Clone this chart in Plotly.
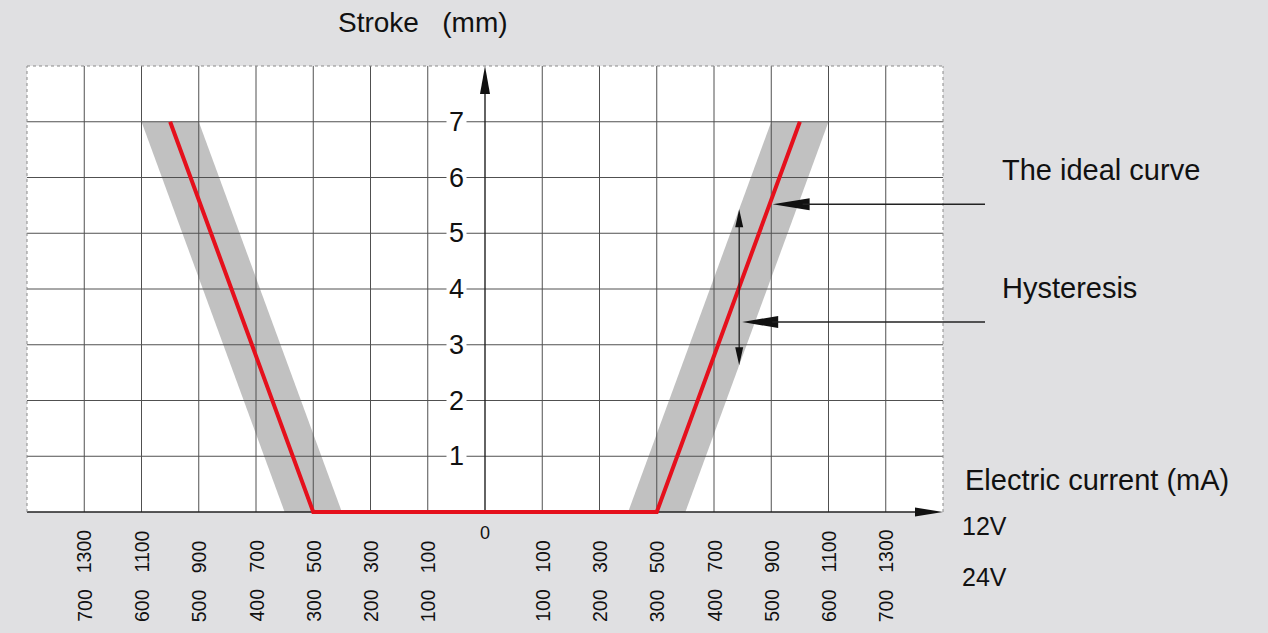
import numpy as np
import plotly.graph_objects as go

# Current scale: one grid column per tick, mirrored about zero
current_12v = [0, 100, 300, 500, 700, 900, 1100, 1300]   # mA, 12 V coil
current_24v = [0, 100, 200, 300, 400, 500, 600, 700]     # mA, 24 V coil
stroke_ticks = [1, 2, 3, 4, 5, 6, 7]                      # mm

# Ideal stroke characteristic (12 V currents; negative = left branch)
ideal_current = [-1000, -500, 500, 1000]
ideal_stroke = [7, 0, 0, 7]

# Half-width of the hysteresis band around the ideal curve (mA, 12 V)
hyst_mA = 100

# Geometry in pixels: chart box L..R, T..B (B = zero stroke); the plot
# area reaches PAD px below the axis so the thick curve is not clipped
W, H = 1268, 633
L, R, T, B = 27, 943, 66, 512
PAD = 4
N_COL = len(current_12v)  # columns on each side of zero
Y_MAX = 8

cols = np.arange(N_COL)
col_px = (R - L) / (2 * N_COL)
row_px = (B - T) / Y_MAX


def to_col(mA):
    mA = np.asarray(mA, dtype=float)
    return np.sign(mA) * np.interp(np.abs(mA), current_12v, cols)


def pp_x(xp):  # pixel -> paper
    return (xp - L) / (R - L)


def pp_y(yp):
    return (B + PAD - yp) / (B + PAD - T)


fig = go.Figure()

# Hysteresis bands around each branch of the ideal curve
branches = [(ideal_current[1], ideal_current[0], ideal_stroke[1], ideal_stroke[0]),
            (ideal_current[2], ideal_current[3], ideal_stroke[2], ideal_stroke[3])]
for c0, c1, s0, s1 in branches:
    xs = to_col([c0 - hyst_mA, c0 + hyst_mA, c1 + hyst_mA, c1 - hyst_mA])
    fig.add_trace(go.Scatter(
        x=list(xs) + [xs[0]], y=[s0, s0, s1, s1, s0],
        mode="lines", fill="toself", fillcolor="#c1c1c1",
        line=dict(width=0), hoverinfo="skip", showlegend=False))

# Grid
gx, gy = [], []
for c in range(-(N_COL - 1), N_COL):
    if c == 0:
        continue
    gx += [c, c, None]
    gy += [0, Y_MAX, None]
for s in stroke_ticks:
    gx += [-N_COL, N_COL, None]
    gy += [s, s, None]
fig.add_trace(go.Scatter(x=gx, y=gy, mode="lines",
                         line=dict(color="#505050", width=1),
                         hoverinfo="skip", showlegend=False))

# Axes
ax_x = [-N_COL, N_COL - 0.45, None, 0, 0]
ax_y = [0, 0, None, 0, Y_MAX - 0.45]
fig.add_trace(go.Scatter(x=ax_x, y=ax_y, mode="lines",
                         line=dict(color="#222222", width=1.4),
                         hoverinfo="skip", showlegend=False))

# Ideal curve
fig.add_trace(go.Scatter(
    x=to_col(ideal_current), y=ideal_stroke, mode="lines",
    line=dict(color="#e5101c", width=4), hoverinfo="skip", showlegend=False))

shapes = []
# white chart field above the current axis
shapes.append(dict(type="rect", xref="paper", yref="paper", layer="below",
                   x0=0, x1=1, y0=pp_y(B), y1=1,
                   fillcolor="white", line=dict(width=0)))
# dotted frame (top, left, right)
yb = pp_y(B)
for x0, y0, x1, y1 in [(0, 1, 1, 1), (0, yb, 0, 1), (1, yb, 1, 1)]:
    shapes.append(dict(type="line", xref="paper", yref="paper",
                       x0=x0, y0=y0, x1=x1, y1=y1,
                       line=dict(color="#8a8a8a", width=1, dash="dot")))


def tri(tip_x, tip_y, dx, dy, half):
    """Filled arrowhead in pixels: tip, direction (dx, dy) length, half width."""
    bx, by = tip_x + dx, tip_y + dy
    n = np.hypot(dx, dy)
    ux, uy = -dy / n * half, dx / n * half
    pts = [(tip_x, tip_y), (bx + ux, by + uy), (bx - ux, by - uy)]
    path = "M " + " L ".join(f"{pp_x(x):.5f},{pp_y(y):.5f}" for x, y in pts) + " Z"
    return dict(type="path", xref="paper", yref="paper", path=path,
                fillcolor="#111111", line=dict(width=0))


def seg(x0, y0, x1, y1, w=1.5):
    return dict(type="line", xref="paper", yref="paper",
                x0=pp_x(x0), y0=pp_y(y0), x1=pp_x(x1), y1=pp_y(y1),
                line=dict(color="#222222", width=w))


cx0 = L + N_COL * col_px  # pixel x of zero current
# axis arrowheads
shapes.append(tri(cx0, T, 0, 28, 5))
shapes.append(tri(R, B, -28, 0, 4.5))

# callout: ideal curve
s_ideal = 5.52
c_ideal = np.interp(s_ideal, [ideal_stroke[2], ideal_stroke[3]],
                    to_col([ideal_current[2], ideal_current[3]]))
tip_x = cx0 + c_ideal * col_px + 3
tip_y = B - s_ideal * row_px
shapes.append(tri(tip_x, tip_y, 37, 0, 6))
shapes.append(seg(tip_x + 30, tip_y, 985, tip_y))

# hysteresis span: vertical double arrow across the band
c_h = 4.44
lo_c0, lo_c1 = to_col([ideal_current[2] + hyst_mA, ideal_current[3] + hyst_mA])
hi_c0, hi_c1 = to_col([ideal_current[2] - hyst_mA, ideal_current[3] - hyst_mA])
s_top = (c_h - hi_c0) / (hi_c1 - hi_c0) * ideal_stroke[3]
s_bot = (c_h - lo_c0) / (lo_c1 - lo_c0) * ideal_stroke[3]
hx = cx0 + c_h * col_px
y_top = B - s_top * row_px
y_bot = B - s_bot * row_px
shapes.append(seg(hx, y_top + 10, hx, y_bot - 10, 1.3))
shapes.append(tri(hx, y_top, 0, 18, 4))
shapes.append(tri(hx, y_bot, 0, -18, 4))

# callout: hysteresis
hy = 322
shapes.append(tri(hx + 3, hy, 36, 0, 6))
shapes.append(seg(hx + 33, hy, 985, hy))

FONT = "Liberation Sans, Arial, sans-serif"
ann = []


def text(t, x, y, size, xanchor="left", yanchor="middle", **kw):
    ann.append(dict(text=t, x=pp_x(x), y=pp_y(y), xref="paper", yref="paper",
                    xanchor=xanchor, yanchor=yanchor, showarrow=False,
                    font=dict(family=FONT, size=size, color="#111111"), **kw))


text("Stroke\u00a0\u00a0 (mm)", 336, 23, 28)
text("The ideal curve", 1000, 170, 29)
text("Hysteresis", 1000, 288, 29)
text("Electric current (mA)", 963, 480, 29)
text("12V", 960, 526, 25)
text("24V", 960, 577, 25)
text("0", cx0, 533, 18, xanchor="center")

# stroke tick labels on the vertical axis
for s in stroke_ticks:
    ann.append(dict(text=str(s), x=-0.5, y=s, xref="x", yref="y",
                    showarrow=False, bgcolor="white", borderpad=2,
                    font=dict(family=FONT, size=27, color="#111111")))

# rotated current tick labels, 12 V and 24 V rows
for i in range(1, N_COL):
    for side in (-1, 1):
        for vals, ybot in ((current_12v, 575), (current_24v, 624)):
            ann.append(dict(text=str(vals[i]), x=side * i, y=pp_y(ybot),
                            xref="x", yref="paper", xanchor="center",
                            yanchor="bottom", textangle=-90, showarrow=False,
                            font=dict(family=FONT, size=19.5, color="#111111")))

fig.update_layout(
    width=W, height=H,
    margin=dict(l=L, r=W - R, t=T, b=H - B - PAD, pad=0),
    paper_bgcolor="#e0e0e2", plot_bgcolor="#e0e0e2",
    xaxis=dict(range=[-N_COL, N_COL], showgrid=False, zeroline=False,
               showticklabels=False, ticks="", fixedrange=True),
    yaxis=dict(range=[-PAD / row_px, Y_MAX], showgrid=False, zeroline=False,
               showticklabels=False, ticks="", fixedrange=True),
    shapes=shapes, annotations=ann, showlegend=False,
)

fig.write_html("out.html")
